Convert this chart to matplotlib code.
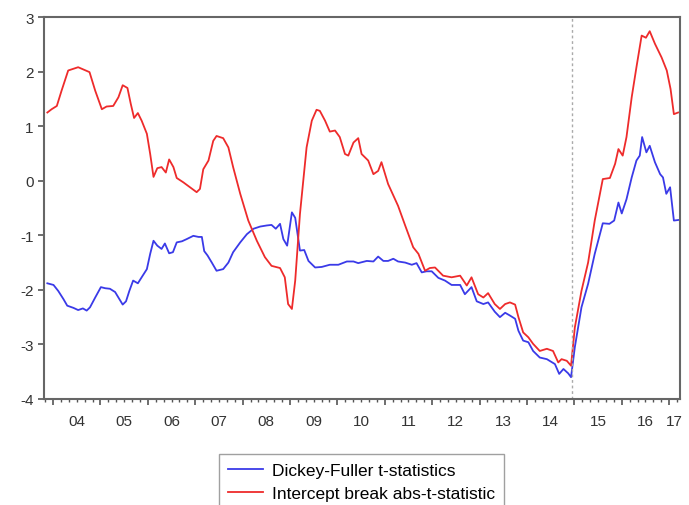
import numpy as np
import matplotlib
matplotlib.use("Agg")
import matplotlib.pyplot as plt

plt.rcParams['font.family'] = ['Liberation Sans', 'DejaVu Sans']

# Dickey-Fuller t-statistics (decimal year, value)
df_t = [2003.88, 2004.01, 2004.11, 2004.22, 2004.30, 2004.43, 2004.53, 2004.63, 2004.71,
        2004.78, 2004.89, 2005.01, 2005.10, 2005.20, 2005.31, 2005.40, 2005.47, 2005.54,
        2005.61, 2005.69, 2005.79, 2005.87, 2005.98, 2006.05, 2006.12, 2006.20, 2006.29,
        2006.36, 2006.45, 2006.53, 2006.61, 2006.72, 2006.82, 2006.96, 2007.07, 2007.14,
        2007.19, 2007.26, 2007.35, 2007.45, 2007.59, 2007.70, 2007.80, 2007.95, 2008.09,
        2008.23, 2008.37, 2008.51, 2008.61, 2008.70, 2008.79, 2008.86, 2008.94, 2009.04,
        2009.11, 2009.16, 2009.21, 2009.30, 2009.39, 2009.53, 2009.67, 2009.84, 2010.02,
        2010.20, 2010.34, 2010.44, 2010.62, 2010.76, 2010.86, 2010.97, 2011.07, 2011.18,
        2011.28, 2011.43, 2011.57, 2011.67, 2011.78, 2011.88, 2011.99, 2012.13, 2012.27,
        2012.41, 2012.59, 2012.69, 2012.83, 2012.94, 2013.08, 2013.18, 2013.32, 2013.43,
        2013.54, 2013.64, 2013.75, 2013.82, 2013.92, 2014.03, 2014.13, 2014.27, 2014.42,
        2014.59, 2014.68, 2014.77, 2014.87, 2014.93, 2015.01, 2015.15, 2015.29, 2015.43,
        2015.60, 2015.74, 2015.84, 2015.93, 2016.00, 2016.10, 2016.21, 2016.31, 2016.38,
        2016.43, 2016.52, 2016.59, 2016.70, 2016.81, 2016.87, 2016.94, 2017.02, 2017.10,
        2017.19]
df_v = [-1.88, -1.91, -2.02, -2.17, -2.29, -2.33, -2.37, -2.34, -2.38,
        -2.32, -2.14, -1.95, -1.97, -1.98, -2.04, -2.17, -2.27, -2.21,
        -2.02, -1.83, -1.88, -1.77, -1.62, -1.34, -1.10, -1.19, -1.25,
        -1.15, -1.33, -1.31, -1.13, -1.11, -1.07, -1.01, -1.03, -1.03,
        -1.29, -1.37, -1.50, -1.65, -1.62, -1.50, -1.31, -1.13, -0.98,
        -0.88, -0.84, -0.82, -0.81, -0.88, -0.79, -1.07, -1.19, -0.58,
        -0.68, -0.98, -1.28, -1.27, -1.47, -1.59, -1.58, -1.54, -1.54,
        -1.48, -1.48, -1.51, -1.47, -1.48, -1.39, -1.47, -1.47, -1.43,
        -1.48, -1.50, -1.54, -1.51, -1.68, -1.66, -1.66, -1.78, -1.83,
        -1.91, -1.91, -2.08, -1.95, -2.21, -2.26, -2.23, -2.40, -2.50,
        -2.42, -2.47, -2.53, -2.75, -2.93, -2.96, -3.12, -3.24, -3.27,
        -3.36, -3.54, -3.45, -3.53, -3.60, -3.05, -2.32, -1.89, -1.34,
        -0.78, -0.79, -0.73, -0.40, -0.60, -0.34, 0.06, 0.37, 0.46,
        0.80, 0.52, 0.64, 0.34, 0.12, 0.06, -0.24, -0.12, -0.73,
        -0.72]

# Intercept break abs-t-statistic (decimal year, value)
ib_t = [2003.88, 2003.97, 2004.08, 2004.18, 2004.32, 2004.53, 2004.77, 2004.89, 2005.03,
        2005.13, 2005.27, 2005.38, 2005.47, 2005.57, 2005.64, 2005.71, 2005.79, 2005.87,
        2005.98, 2006.05, 2006.12, 2006.20, 2006.29, 2006.38, 2006.45, 2006.54, 2006.61,
        2006.75, 2006.89, 2007.03, 2007.10, 2007.17, 2007.28, 2007.38, 2007.45, 2007.59,
        2007.70, 2007.80, 2007.95, 2008.12, 2008.30, 2008.47, 2008.61, 2008.79, 2008.89,
        2008.96, 2009.04, 2009.11, 2009.21, 2009.35, 2009.46, 2009.56, 2009.63, 2009.74,
        2009.84, 2009.95, 2010.05, 2010.16, 2010.23, 2010.34, 2010.44, 2010.51, 2010.65,
        2010.76, 2010.86, 2010.93, 2011.07, 2011.28, 2011.43, 2011.60, 2011.71, 2011.85,
        2011.95, 2012.06, 2012.23, 2012.41, 2012.59, 2012.73, 2012.83, 2012.97, 2013.08,
        2013.18, 2013.32, 2013.43, 2013.54, 2013.64, 2013.75, 2013.82, 2013.92, 2014.03,
        2014.13, 2014.27, 2014.42, 2014.55, 2014.66, 2014.73, 2014.84, 2014.93, 2015.01,
        2015.15, 2015.29, 2015.43, 2015.60, 2015.75, 2015.86, 2015.93, 2016.02, 2016.10,
        2016.21, 2016.31, 2016.42, 2016.51, 2016.59, 2016.70, 2016.84, 2016.95, 2017.03,
        2017.10, 2017.19]
ib_v = [1.25, 1.31, 1.37, 1.65, 2.02, 2.08, 1.99, 1.65, 1.31,
        1.36, 1.37, 1.53, 1.75, 1.70, 1.41, 1.15, 1.24, 1.10,
        0.86, 0.49, 0.07, 0.23, 0.25, 0.15, 0.39, 0.25, 0.05,
        -0.03, -0.12, -0.21, -0.15, 0.21, 0.37, 0.73, 0.82, 0.78,
        0.61, 0.25, -0.24, -0.73, -1.10, -1.40, -1.56, -1.60, -1.77,
        -2.26, -2.35, -1.83, -0.61, 0.61, 1.10, 1.30, 1.28, 1.10,
        0.90, 0.92, 0.80, 0.49, 0.46, 0.70, 0.78, 0.49, 0.37,
        0.12, 0.18, 0.34, -0.06, -0.46, -0.82, -1.22, -1.34, -1.65,
        -1.60, -1.59, -1.74, -1.77, -1.74, -1.92, -1.77, -2.08, -2.14,
        -2.06, -2.26, -2.35, -2.26, -2.23, -2.27, -2.50, -2.78, -2.87,
        -2.99, -3.12, -3.08, -3.12, -3.33, -3.27, -3.30, -3.39, -2.69,
        -2.02, -1.50, -0.73, 0.03, 0.05, 0.31, 0.58, 0.46, 0.80,
        1.53, 2.08, 2.66, 2.62, 2.74, 2.51, 2.26, 2.02, 1.68,
        1.22, 1.25]

years = list(range(2004, 2018))
year_labels = ['04', '05', '06', '07', '08', '09', '10', '11', '12', '13', '14', '15', '16', '17']
break_date = 2014.94
x_lo, x_hi = 2003.81, 2017.23

fig = plt.figure(figsize=(6.89, 5.06), dpi=100)
ax = fig.add_axes([0.0639, 0.2095, 0.9231, 0.7549])

ax.plot(df_t, df_v, color='#3a3ae8', lw=1.3, label='Dickey-Fuller t-statistics')
ax.plot(ib_t, ib_v, color='#ee2b2b', lw=1.3, label='Intercept break abs-t-statistic')
ax.axvline(break_date, color='#aaaaaa', lw=1.0, ls=(0, (2, 2)))

ax.set_xlim(x_lo, x_hi)
ax.set_ylim(-4, 3)
ax.set_yticks(range(-4, 4))
ax.set_yticklabels([str(v) for v in range(-4, 4)])

ax.set_xticks(years[:-1] + [2017])
ax.set_xticklabels([])
ax.set_xticks([y + k / 6 for y in range(2003, 2018) for k in range(1, 6)
               if x_lo < y + k / 6 < x_hi], minor=True)
label_pos = [y + 0.5 for y in years[:-1]] + [(2017 + x_hi) / 2]
for xp, lab in zip(label_pos, year_labels):
    ax.text(xp, -0.04, lab, transform=ax.get_xaxis_transform(), ha='center', va='top',
            fontsize=11, color='#333333')

ax.tick_params(axis='both', which='major', direction='out', length=4, width=1.2,
               color='#555555', labelsize=11, labelcolor='#333333')
ax.tick_params(axis='x', which='minor', direction='out', length=2, width=1.0, color='#555555')
for sp in ax.spines.values():
    sp.set_color('#666666')
    sp.set_linewidth(1.5)

leg = fig.legend(loc='upper center', bbox_to_anchor=(0.5247, 0.101), ncol=1, fontsize=12.5,
                 frameon=True, fancybox=False, edgecolor='#888888', handlelength=2.05,
                 borderpad=0.5, labelspacing=0.45, handletextpad=0.5, borderaxespad=0)
leg.get_frame().set_linewidth(1.0)

fig.savefig('out.png', dpi=100)
